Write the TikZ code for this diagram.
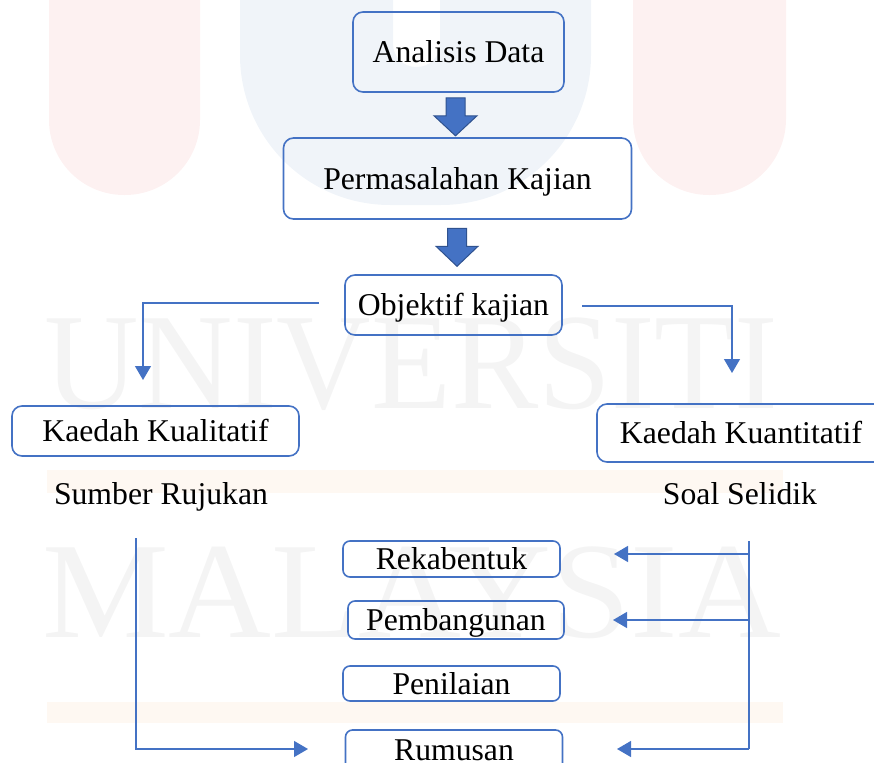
\documentclass[tikz,border=0pt]{standalone}
\usepackage{fontspec}
\setmainfont{Liberation Serif}
\usetikzlibrary{arrows.meta,calc}
\definecolor{obl}{HTML}{4472C4}
\definecolor{obd}{HTML}{2F528F}
\definecolor{wmred}{HTML}{FDF1F1}
\definecolor{wmblue}{HTML}{F0F4F9}
\definecolor{wmgray}{HTML}{F4F4F4}
\definecolor{wmorange}{HTML}{FEF8F2}
\tikzset{
  box/.style={draw=obl, line width=1.6pt, rounded corners=10pt, inner sep=0pt,
    text height=21pt, text depth=0pt, font=\fontsize{31.7}{36}\selectfont},
  smallbox/.style={box, rounded corners=7pt},
  plain/.style={inner sep=0pt, font=\fontsize{31.7}{36}\selectfont},
  wmtext/.style={inner sep=0pt, text=wmgray, font=\fontsize{137}{150}\selectfont},
  link/.style={draw=obl, line width=1.3pt},
  conn/.style={link, -{Triangle[width=16pt,length=14pt]}},
  blockarrow/.style={fill=obl, draw=obd, line width=1pt, line join=miter}
}
\begin{document}
\begin{tikzpicture}[x=1pt,y=-1pt]
\useasboundingbox (0,0) rectangle (874,762);
\clip (0,0) rectangle (874,762);
% watermark
\fill[wmred, rounded corners=75pt] (49,-150) rectangle (200,195);
\fill[wmred, rounded corners=76pt] (633,-150) rectangle (786,195);
\fill[wmblue, even odd rule] [rounded corners=150pt] (240,-300) rectangle (591,205)
  [rounded corners=23pt] (393,-100) rectangle (440,67);
\fill[wmorange] (47,470) rectangle (783,493);
\fill[wmorange] (47,702) rectangle (783,723);
\node[wmtext, anchor=base west, xscale=0.955, transform shape] (wm1) at (44,408) {UNIVERSITI};
\node[wmtext, anchor=base west, xscale=1.04, transform shape] (wm2) at (42,637) {MALAYSIA};

% boxes
\node[box, minimum width=211pt, minimum height=80pt] (ad) at (458.5,52) {Analisis Data};
\node[box, minimum width=348pt, minimum height=81pt] (pk) at (457.5,178.5) {Permasalahan Kajian};
\node[box, minimum width=217pt, minimum height=60pt] (ok) at (453.5,305) {Objektif kajian};
\node[box, minimum width=287pt, minimum height=50pt] (kl) at (155.5,431) {Kaedah Kualitatif};
\node[box, minimum width=288pt, minimum height=58pt] (kn) at (741,433) {Kaedah Kuantitatif};
\node[plain, anchor=base] (sr) at (161,504) {Sumber Rujukan};
\node[plain, anchor=base] (ss) at (740,504) {Soal Selidik};
\node[smallbox, minimum width=217pt, minimum height=36pt] (rk) at (451.5,559) {Rekabentuk};
\node[smallbox, minimum width=216pt, minimum height=38pt] (pb) at (456,620) {Pembangunan};
\node[smallbox, minimum width=217pt, minimum height=35pt] (pn) at (451.5,683.5) {Penilaian};
\node[smallbox, minimum width=217pt, minimum height=40pt] (rm) at (454,750) {Rumusan};

% block arrows
\path[blockarrow] ($(ad.south)+(-3,43)$) -- ++(-21.5,-20) -- ++(12,0) -- ++(0,-18) -- ++(19,0)
  -- ++(0,18) -- ++(12,0) -- cycle;
\path[blockarrow] ($(pk.south)+(-0.5,46.5)$) -- ++(-21,-20) -- ++(11.5,0) -- ++(0,-18) -- ++(19,0)
  -- ++(0,18) -- ++(11.5,0) -- cycle;

% connectors
\coordinate (c1) at (319,303);
\coordinate (c1e) at (143,380);
\draw[conn] (c1) -| (c1e);
\coordinate (c2) at (582,306);
\coordinate (c2e) at (732,373);
\draw[conn] (c2) -| (c2e);
\coordinate (c3) at (136,538);
\coordinate (c3e) at (308,749);
\draw[conn] (c3) |- (c3e);
\coordinate (c4) at (749,541);
\coordinate (c4b) at (749,749);
\draw[link] (c4) -- (c4b);
\coordinate (r1s) at (749,554);
\coordinate (r1e) at (614,554);
\coordinate (r2s) at (749,620);
\coordinate (r2e) at (613,620);
\coordinate (r3e) at (617,749);
\draw[conn] (r1s) -- (r1e);
\draw[conn] (r2s) -- (r2e);
\draw[conn] (c4b) -- (r3e);
\end{tikzpicture}
\end{document}
